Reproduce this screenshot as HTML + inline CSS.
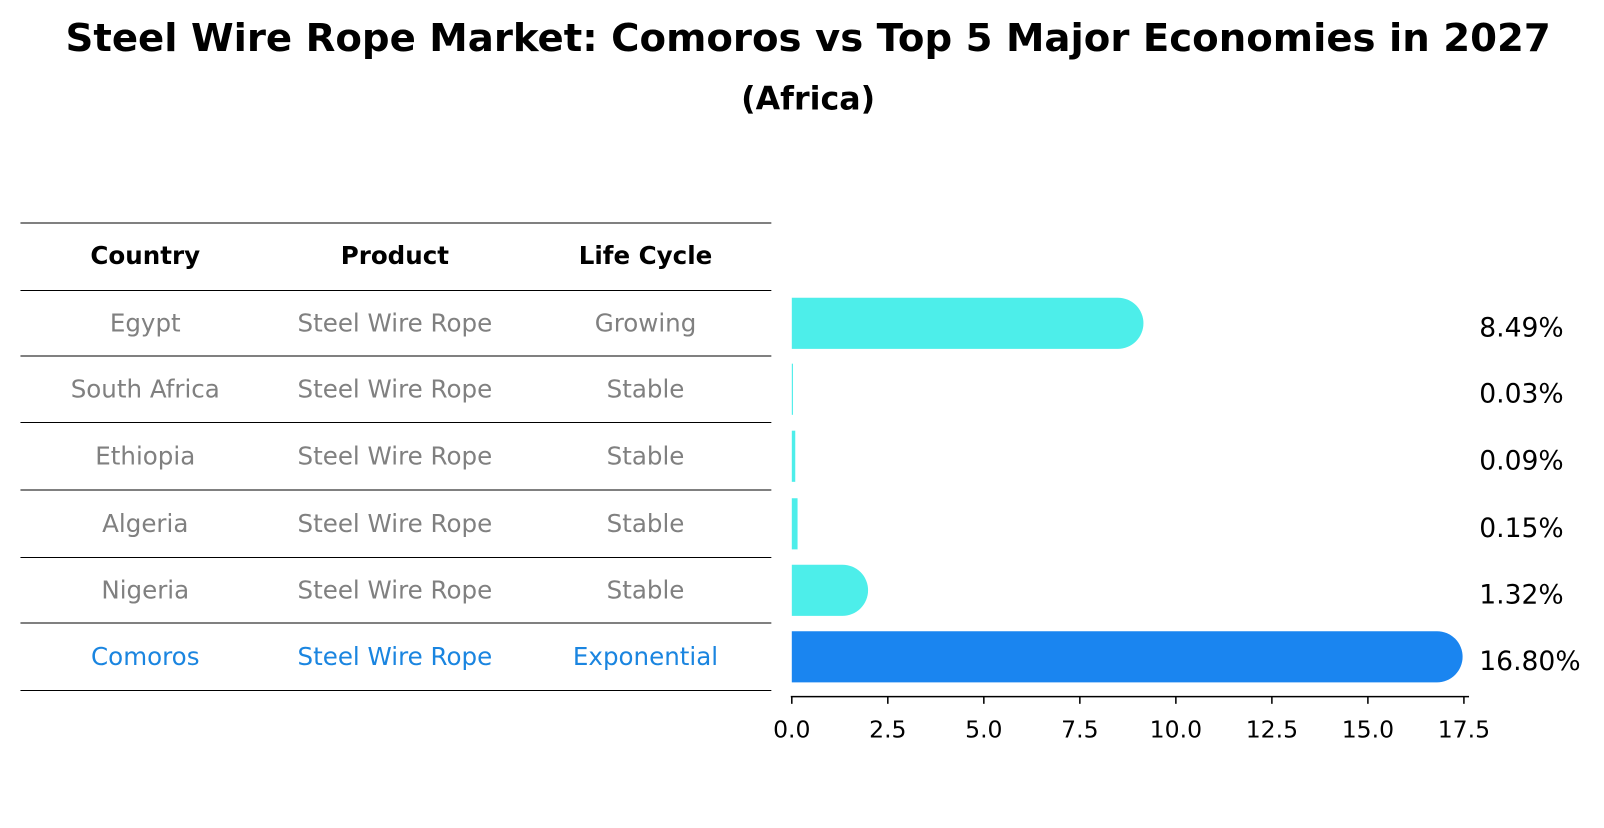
<!DOCTYPE html>
<html><head><meta charset="utf-8"><style>
body{margin:0;background:#fff;font-family:"Liberation Sans","DejaVu Sans",sans-serif;}
</style></head><body>
<svg width="1604" height="823" xmlns="http://www.w3.org/2000/svg" font-family="DejaVu Sans, Liberation Sans, sans-serif">
<g transform="scale(1.023)">
<text x="790" y="50" text-anchor="middle" font-size="37.8" font-weight="bold">Steel Wire Rope Market: Comoros vs Top 5 Major Economies in 2027</text>
<text x="790" y="107" text-anchor="middle" font-size="31" font-weight="bold">(Africa)</text>
<g id="table"></g>
<g id="bars"></g>
</g>
</svg>
<script>
const countries=["Egypt","South Africa","Ethiopia","Algeria","Nigeria","Comoros"];
const products=["Steel Wire Rope","Steel Wire Rope","Steel Wire Rope","Steel Wire Rope","Steel Wire Rope","Steel Wire Rope"];
const lifecycles=["Growing","Stable","Stable","Stable","Stable","Exponential"];
const values=[8.49,0.03,0.09,0.15,1.32,16.80];
const ticks=[0,2.5,5,7.5,10,12.5,15,17.5];
const NS="http://www.w3.org/2000/svg";
const tbl=document.getElementById('table'), bars=document.getElementById('bars');
function mk(tag,attrs,parent,text){const e=document.createElementNS(NS,tag);for(const k in attrs)e.setAttribute(k,attrs[k]);if(text!==undefined)e.textContent=text;parent.appendChild(e);return e;}
const x=v=>774+v*(1431-774)/17.5;
const lineYs=[218,284,348,413,479,545,609,675];
lineYs.forEach(y=>{const l=mk('line',{x1:20,x2:754,y1:y,y2:y,stroke:'#000','stroke-width':1},tbl);

});
const colX=[142,386,631];
["Country","Product","Life Cycle"].forEach((h,j)=>{const t=mk('text',{x:colX[j],y:258,'text-anchor':'middle','font-size':24,'font-weight':'bold'},tbl,h);

});
countries.forEach((c,i)=>{
 const cy=(lineYs[i+1]+lineYs[i+2])/2;
 const col=i===countries.length-1?'#1a85e0':'#808080';
 [c,products[i],lifecycles[i]].forEach((s,j)=>{const t=mk('text',{x:colX[j],y:cy+8,'text-anchor':'middle','font-size':24,fill:col},tbl,s);
 
 });
 const w=x(values[i])-x(0);
 const top=cy-25,h=50;
 const fill=i===countries.length-1?'#1a85f0':'#4deeea';
 let d;
 if(w>10){const r=25;d=`M${x(0)},${top} H${x(values[i])} A${r},${r} 0 0 1 ${x(values[i])},${top+h} H${x(0)} Z`;}
 else d=`M${x(0)},${top} h${Math.max(w,1)} v${h} h${-Math.max(w,1)} Z`;
 const b=mk('path',{d:d,fill:fill},bars);
 
 
 const lt=mk('text',{x:1446,y:cy+13,'font-size':26},bars,values[i].toFixed(2)+'%');
 
 
});
const ax=mk('line',{x1:773,x2:1436,y1:681,y2:681,stroke:'#000','stroke-width':1.5},bars);


ticks.forEach(t=>{const tk=mk('line',{x1:x(t),x2:x(t),y1:681,y2:688,stroke:'#000','stroke-width':1.5},bars);


const tl=mk('text',{x:x(t),y:721,'text-anchor':'middle','font-size':23},bars,t.toFixed(1));

});
</script>
</body></html>
